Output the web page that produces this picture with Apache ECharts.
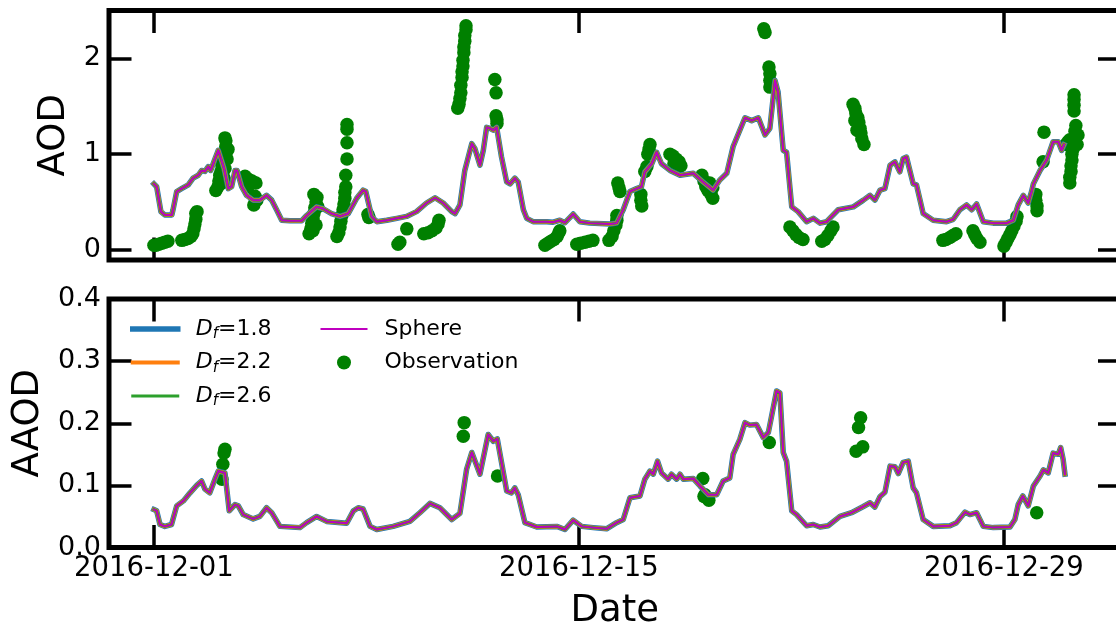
<!DOCTYPE html>
<html><head><meta charset="utf-8">
<script src="https://cdn.jsdelivr.net/npm/echarts@6/dist/echarts.min.js"></script>
<style>html,body{margin:0;padding:0;background:#fff}#c{width:1116px;height:623px}</style>
</head><body><div id="c"></div>
<script>
// x values are days since 2016-12-01 00:00
const xTickDays = [0, 14, 28];
const xTickLabels = ['2016-12-01', '2016-12-15', '2016-12-29'];
const aodTicks = [0, 1, 2];
const aodTickLabels = ['0', '1', '2'];
const aaodTicks = [0, 0.1, 0.2, 0.3, 0.4];
const aaodTickLabels = ['0.0', '0.1', '0.2', '0.3', '0.4'];
const seriesNames = ['D_f=1.8', 'D_f=2.2', 'D_f=2.6', 'Sphere', 'Observation'];

// modelled AOD (the four model curves overlap in the picture)
const aodModel = [[0.00,0.69],[0.09,0.66],[0.23,0.40],[0.36,0.365],[0.59,0.365],[0.63,0.42],[0.75,0.61],[0.91,0.64],[1.13,0.68],[1.29,0.75],[1.46,0.78],[1.57,0.83],[1.68,0.82],[1.79,0.87],[1.87,0.83],[2.01,0.95],[2.12,1.04],[2.17,1.05],[2.31,0.85],[2.45,0.64],[2.56,0.66],[2.67,0.83],[2.74,0.83],[2.89,0.66],[3.05,0.57],[3.27,0.52],[3.49,0.52],[3.71,0.57],[3.88,0.52],[4.04,0.42],[4.21,0.31],[4.48,0.305],[4.87,0.305],[5.03,0.36],[5.36,0.45],[5.58,0.43],[5.85,0.38],[6.13,0.35],[6.40,0.38],[6.68,0.54],[6.89,0.625],[6.98,0.61],[7.17,0.35],[7.34,0.295],[7.67,0.31],[8.00,0.33],[8.32,0.35],[8.65,0.40],[8.98,0.49],[9.26,0.545],[9.53,0.49],[9.81,0.40],[9.92,0.38],[10.08,0.47],[10.24,0.83],[10.47,1.11],[10.57,1.06],[10.74,0.885],[10.85,1.04],[10.96,1.28],[11.07,1.27],[11.18,1.25],[11.29,1.28],[11.45,0.97],[11.62,0.71],[11.73,0.69],[11.89,0.75],[12.00,0.71],[12.17,0.42],[12.28,0.33],[12.49,0.295],[12.94,0.295],[13.15,0.29],[13.37,0.31],[13.54,0.285],[13.81,0.375],[14.03,0.295],[14.36,0.28],[15.02,0.27],[15.24,0.28],[15.46,0.42],[15.68,0.61],[15.90,0.64],[16.06,0.66],[16.17,0.815],[16.40,0.90],[16.56,1.02],[16.72,0.90],[17.00,0.83],[17.33,0.78],[17.77,0.80],[18.09,0.71],[18.42,0.625],[18.64,0.73],[18.87,0.80],[19.08,1.08],[19.30,1.25],[19.47,1.38],[19.69,1.35],[19.91,1.38],[20.13,1.20],[20.29,1.27],[20.46,1.77],[20.56,1.65],[20.73,1.04],[20.84,1.02],[21.01,0.45],[21.22,0.40],[21.50,0.295],[21.72,0.33],[21.94,0.28],[22.16,0.295],[22.54,0.42],[23.04,0.45],[23.37,0.52],[23.59,0.57],[23.75,0.52],[23.92,0.625],[24.08,0.64],[24.25,0.885],[24.41,0.92],[24.57,0.815],[24.68,0.955],[24.79,0.97],[25.01,0.69],[25.12,0.68],[25.34,0.38],[25.67,0.31],[26.11,0.295],[26.33,0.32],[26.55,0.42],[26.77,0.47],[26.94,0.42],[27.10,0.48],[27.32,0.295],[27.65,0.28],[28.09,0.28],[28.31,0.31],[28.47,0.47],[28.64,0.57],[28.80,0.49],[28.91,0.61],[28.97,0.69],[29.19,0.83],[29.41,0.94],[29.62,1.13],[29.79,1.13],[29.90,1.04],[29.98,1.10]];

// observed AOD
const aodObs = [[0.00,0.05],[0.07,0.05],[0.16,0.06],[0.26,0.07],[0.36,0.08],[0.46,0.09],
[0.92,0.10],[1.02,0.11],[1.12,0.12],[1.22,0.14],[1.28,0.17],[1.32,0.22],[1.35,0.27],[1.38,0.32],[1.38,0.38],[1.42,0.40],
[2.04,0.62],[2.11,0.66],[2.14,0.72],[2.17,0.78],[2.21,0.82],[2.24,0.88],[2.27,0.93],[2.31,0.98],[2.34,1.03],[2.37,1.08],[2.37,1.14],[2.34,1.17],[2.24,0.70],[2.31,0.75],[2.34,0.85],[2.41,0.95],[2.44,1.05],
[3.00,0.77],[3.10,0.74],[3.23,0.72],[3.36,0.70],[3.10,0.66],[3.33,0.56],[3.39,0.52],[3.29,0.47],
[5.11,0.17],[5.17,0.22],[5.20,0.28],[5.24,0.33],[5.27,0.38],[5.30,0.44],[5.34,0.50],[5.37,0.55],[5.27,0.58],[5.40,0.45],[5.34,0.26],[5.24,0.20],
[6.03,0.14],[6.09,0.18],[6.13,0.24],[6.16,0.30],[6.19,0.36],[6.23,0.42],[6.26,0.48],[6.29,0.54],[6.29,0.60],[6.32,0.66],[6.32,0.78],[6.36,0.95],[6.36,1.12],[6.36,1.26],[6.36,1.31],
[7.05,0.37],[7.08,0.34],
[8.04,0.06],[8.10,0.08],[8.33,0.22],
[8.89,0.17],[9.03,0.18],[9.16,0.20],[9.29,0.23],[9.36,0.27],[9.39,0.31],
[10.01,1.48],[10.05,1.52],[10.08,1.58],[10.11,1.64],[10.11,1.72],[10.15,1.80],[10.15,1.86],[10.18,1.92],[10.18,1.98],[10.21,2.06],[10.21,2.12],[10.24,2.18],[10.24,2.24],[10.28,2.30],[10.28,2.34],
[11.23,1.78],[11.27,1.64],[11.27,1.40],[11.30,1.36],[11.30,1.32],
[12.88,0.05],[12.98,0.07],[13.08,0.09],[13.18,0.11],[13.28,0.14],[13.34,0.18],[13.37,0.20],
[13.93,0.06],[14.06,0.07],[14.20,0.08],[14.33,0.09],[14.46,0.10],
[14.99,0.10],[15.09,0.14],[15.15,0.20],[15.22,0.26],[15.25,0.31],[15.25,0.36],
[15.28,0.70],[15.32,0.65],[15.35,0.61],
[16.04,0.58],[16.04,0.52],[16.07,0.46],
[16.17,0.82],[16.24,0.87],[16.27,1.00],[16.31,1.05],[16.34,1.10],
[17.00,1.00],[17.10,0.98],[17.20,0.95],[17.30,0.92],[17.36,0.88],[17.23,0.86],[17.13,0.90],
[18.05,0.78],[18.12,0.72],[18.18,0.66],[18.25,0.62],[18.35,0.58],[18.41,0.54],[18.31,0.70],[18.41,0.65],
[20.09,2.31],[20.13,2.27],[20.26,1.91],[20.29,1.84],[20.29,1.77],[20.29,1.70],
[20.95,0.24],[21.05,0.20],[21.15,0.16],[21.25,0.13],[21.38,0.11],
[22.00,0.09],[22.10,0.11],[22.20,0.15],[22.30,0.20],[22.37,0.24],
[23.03,1.52],[23.09,1.48],[23.12,1.43],[23.19,1.38],[23.22,1.33],[23.26,1.27],[23.29,1.22],[23.32,1.16],[23.39,1.10],[23.09,1.35],[23.16,1.25],
[25.99,0.10],[26.09,0.11],[26.22,0.13],[26.32,0.15],[26.42,0.17],
[26.98,0.20],[27.04,0.16],[27.11,0.12],[27.21,0.08],
[28.00,0.04],[28.07,0.08],[28.13,0.12],[28.20,0.16],[28.26,0.20],[28.33,0.25],[28.40,0.30],[28.43,0.35],
[29.05,0.58],[29.05,0.52],[29.09,0.46],[29.09,0.41],
[29.32,1.23],[29.29,0.92],
[30.04,1.10],[30.11,1.13],[30.17,1.15],[30.24,1.08],[30.17,0.70],[30.17,0.76],[30.21,0.82],[30.21,0.88],[30.24,0.94],[30.24,1.00],[30.27,1.05],[30.31,1.12],[30.34,1.18],[30.34,1.24],[30.37,1.30],[30.31,1.45],[30.31,1.51],[30.31,1.57],[30.31,1.62],[30.41,1.10],[30.44,1.20]];

// modelled AAOD
const aaodModel = [[0.00,0.061],[0.09,0.059],[0.20,0.037],[0.36,0.034],[0.58,0.037],[0.75,0.067],[0.97,0.075],[1.19,0.088],[1.41,0.100],[1.57,0.107],[1.68,0.094],[1.84,0.088],[2.01,0.110],[2.12,0.123],[2.34,0.120],[2.48,0.059],[2.67,0.069],[2.78,0.067],[2.94,0.053],[3.27,0.046],[3.49,0.050],[3.71,0.064],[3.88,0.056],[4.15,0.034],[4.81,0.032],[5.03,0.040],[5.36,0.050],[5.69,0.042],[6.35,0.039],[6.57,0.059],[6.73,0.064],[6.89,0.062],[7.12,0.034],[7.34,0.029],[7.88,0.034],[8.43,0.042],[8.76,0.056],[9.09,0.071],[9.42,0.064],[9.81,0.045],[10.08,0.055],[10.30,0.126],[10.47,0.153],[10.74,0.118],[11.01,0.182],[11.18,0.171],[11.31,0.175],[11.62,0.091],[11.78,0.088],[11.89,0.096],[12.00,0.085],[12.22,0.040],[12.61,0.033],[13.27,0.034],[13.54,0.029],[13.81,0.044],[14.09,0.034],[14.47,0.032],[14.91,0.030],[15.24,0.040],[15.46,0.045],[15.68,0.080],[16.01,0.083],[16.17,0.110],[16.34,0.123],[16.45,0.118],[16.59,0.139],[16.72,0.120],[16.94,0.110],[17.05,0.118],[17.22,0.110],[17.33,0.118],[17.44,0.110],[17.77,0.111],[17.99,0.099],[18.26,0.085],[18.54,0.085],[18.75,0.107],[18.97,0.112],[19.08,0.150],[19.30,0.174],[19.47,0.201],[19.63,0.197],[19.85,0.198],[20.07,0.177],[20.24,0.185],[20.51,0.252],[20.62,0.249],[20.73,0.153],[20.84,0.139],[21.01,0.059],[21.17,0.053],[21.50,0.035],[21.72,0.037],[21.94,0.033],[22.21,0.035],[22.60,0.050],[22.98,0.056],[23.37,0.066],[23.59,0.072],[23.75,0.065],[23.92,0.082],[24.08,0.089],[24.25,0.131],[24.41,0.130],[24.52,0.119],[24.68,0.137],[24.85,0.139],[25.01,0.096],[25.12,0.088],[25.34,0.045],[25.67,0.034],[26.22,0.035],[26.44,0.040],[26.72,0.057],[26.88,0.053],[27.10,0.056],[27.32,0.034],[27.65,0.032],[28.20,0.033],[28.36,0.045],[28.47,0.069],[28.62,0.083],[28.80,0.067],[28.97,0.099],[29.19,0.115],[29.30,0.125],[29.46,0.120],[29.62,0.152],[29.79,0.150],[29.87,0.161],[29.95,0.142],[30.01,0.118]];

// observed AAOD
const aaodObs = [[2.34,0.158],[2.31,0.152],[2.27,0.134],[2.24,0.110],
[10.22,0.201],[10.19,0.179],[11.32,0.115],
[18.08,0.111],[18.12,0.082],[18.15,0.085],[18.21,0.080],[18.28,0.076],
[20.27,0.169],
[23.28,0.209],[23.21,0.193],[23.35,0.162],[23.13,0.155],
[29.08,0.056]];

const FONT = 'DejaVu Sans';
const lineColors = ['#1f77b4', '#ff7f0e', '#2ca02c', '#bf00bf'];
const lineWidths = [5.5, 4, 3, 2];
const obsColor = '#008000';
const X_MIN = -1.48, X_MAX = 31.84;

const chart = echarts.init(document.getElementById('c'), null, {renderer: 'canvas'});

const tickStyle = (vals) => ({show: true, inside: true, length: 22.5, customValues: vals, lineStyle: {color: '#000', width: 3.5}});

function xAxisDef(gi, pos, withLabels) {
  const a = {
    type: 'value', gridIndex: gi, position: pos, min: X_MIN, max: X_MAX,
    axisLine: {show: false, onZero: false}, splitLine: {show: false},
    axisTick: tickStyle(xTickDays), axisLabel: {show: false}
  };
  if (withLabels) {
    a.axisLabel = {show: true, customValues: xTickDays, margin: 7, color: '#000', fontFamily: FONT, fontSize: 27.5,
      formatter: v => xTickLabels[xTickDays.indexOf(Math.round(v))]};
    a.name = 'Date'; a.nameLocation = 'middle'; a.nameGap = 45;
    a.nameTextStyle = {fontFamily: FONT, fontSize: 37, color: '#000'};
  }
  return a;
}

function yAxisDef(gi, pos, mn, mx, ticks, labels, name, gap) {
  const a = {
    type: 'value', gridIndex: gi, position: pos, min: mn, max: mx,
    axisLine: {show: false, onZero: false}, splitLine: {show: false},
    axisTick: tickStyle(ticks), axisLabel: {show: false}
  };
  if (labels) {
    a.axisLabel = {show: true, customValues: ticks, margin: 8, color: '#000', fontFamily: FONT, fontSize: 27,
      formatter: v => labels[ticks.findIndex(t => Math.abs(t - v) < 1e-9)]};
    a.name = name; a.nameLocation = 'middle'; a.nameRotate = 90; a.nameGap = gap;
    a.nameTextStyle = {fontFamily: FONT, fontSize: 37, color: '#000'};
  }
  return a;
}

const xAxes = [xAxisDef(0, 'bottom', false), xAxisDef(0, 'top', false), xAxisDef(1, 'bottom', true), xAxisDef(1, 'top', false)];
const yAxes = [
  yAxisDef(0, 'left', -0.105, 2.5, aodTicks, aodTickLabels, 'AOD', 34),
  yAxisDef(0, 'right', -0.105, 2.5, aodTicks, null),
  yAxisDef(1, 'left', 0, 0.4, aaodTicks, aaodTickLabels, 'AAOD', 60),
  yAxisDef(1, 'right', 0, 0.4, aaodTicks, null)
];

const series = [];
[[aodModel, aodObs, 0], [aaodModel, aaodObs, 1]].forEach(([model, obs, gi]) => {
  series.push({
    name: seriesNames[4], type: 'scatter', xAxisIndex: gi * 2, yAxisIndex: gi * 2,
    data: obs, symbol: 'circle', symbolSize: 13.5, itemStyle: {color: obsColor, opacity: 1}, z: 1
  });
  for (let k = 0; k < 4; k++) {
    series.push({
      name: seriesNames[k], type: 'line', xAxisIndex: gi * 2, yAxisIndex: gi * 2,
      data: model, symbol: 'none', showSymbol: false, z: 2 + k,
      lineStyle: {color: lineColors[k], width: lineWidths[k], cap: 'square', join: 'round'},
      itemStyle: {color: lineColors[k]}
    });
  }
});

const legendText = {
  fontFamily: FONT, fontSize: 22, color: '#000', lineHeight: 26,
  rich: {
    i: {fontFamily: FONT, fontSize: 22, fontStyle: 'italic', color: '#000', lineHeight: 26, padding: [0, 0, 0, 13]},
    s: {fontFamily: FONT, fontSize: 15, fontStyle: 'italic', color: '#000', lineHeight: 13, verticalAlign: 'bottom'},
    n: {fontFamily: FONT, fontSize: 22, color: '#000', lineHeight: 26},
    p: {fontFamily: FONT, fontSize: 22, color: '#000', lineHeight: 26, padding: [0, 0, 0, 13]}
  }
};
const lineLegendItem = k => ({
  name: seriesNames[k],
  itemStyle: {opacity: 0},
  lineStyle: {color: lineColors[k], width: lineWidths[k], cap: 'square', opacity: 1}
});

chart.setOption({
  animation: false,
  backgroundColor: '#fff',
  grid: [
    {left: 109, top: 10.5, width: 1011.5, height: 249.5, show: true, borderColor: '#000', borderWidth: 5, outerBoundsMode: 'none', containLabel: false},
    {left: 109, top: 299, width: 1011.5, height: 248.5, show: true, borderColor: '#000', borderWidth: 5, outerBoundsMode: 'none', containLabel: false}
  ],
  xAxis: xAxes,
  yAxis: yAxes,
  legend: [
    {orient: 'vertical', left: 130, top: 316, padding: 0, itemWidth: 45, itemHeight: 14, itemGap: 7.5,
     data: [lineLegendItem(0), lineLegendItem(1), lineLegendItem(2)], selectedMode: false, textStyle: legendText,
     formatter: nm => '{i|D}{s|f}{n|=' + nm.split('=')[1] + '}'},
    {orient: 'vertical', left: 320.5, top: 316, padding: 0, itemWidth: 45, itemHeight: 14, itemGap: 7.5,
     data: [lineLegendItem(3), {name: seriesNames[4]}], selectedMode: false, textStyle: legendText,
     formatter: nm => '{p|' + nm + '}'}
  ],
  series: series
});
</script></body></html>
